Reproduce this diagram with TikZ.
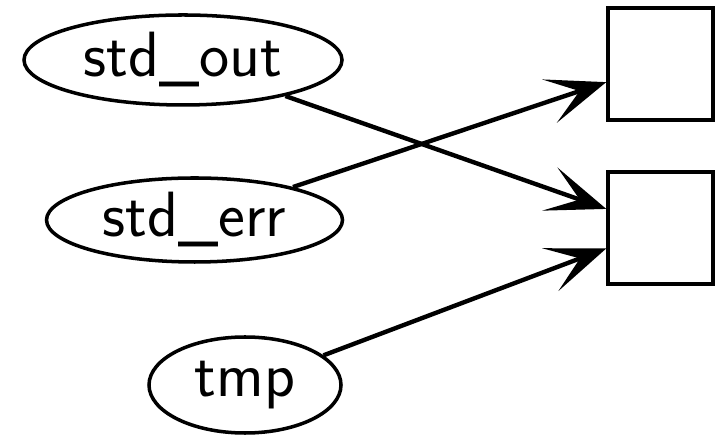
\documentclass[tikz,border=0pt]{standalone}
\usetikzlibrary{shapes.geometric,arrows.meta}

\tikzset{
	stream/.style={ellipse, draw, line width=1pt, inner sep=0pt, font=\fontsize{18.2pt}{22pt}\sffamily},
	sink/.style={rectangle, draw, line width=1pt, minimum width=1.05cm, minimum height=1.12cm},
	feed/.style={line width=1.25pt, -{Stealth[length=17pt, width=13pt, inset=9pt]}},
}

\begin{document}
\begin{tikzpicture}
	\useasboundingbox (0, 0) rectangle (7.2, -4.37);
	% redirected streams
	\node[stream, minimum width=3.18cm, minimum height=0.90cm] (out) at (1.83, -0.60) {std\_out};
	\node[stream, minimum width=2.96cm, minimum height=0.84cm] (err) at (1.945, -2.20) {std\_err};
	\node[stream, minimum width=1.92cm, minimum height=0.96cm] (tmp) at (2.45, -3.85) {tmp};
	% targets
	\node[sink] (a) at (6.605, -0.64) {};
	\node[sink] (b) at (6.605, -2.28) {};
	\draw[feed] (out) -- (b);
	\draw[feed] (err) -- (a);
	\draw[feed] (tmp) -- (b);
\end{tikzpicture}
\end{document}
